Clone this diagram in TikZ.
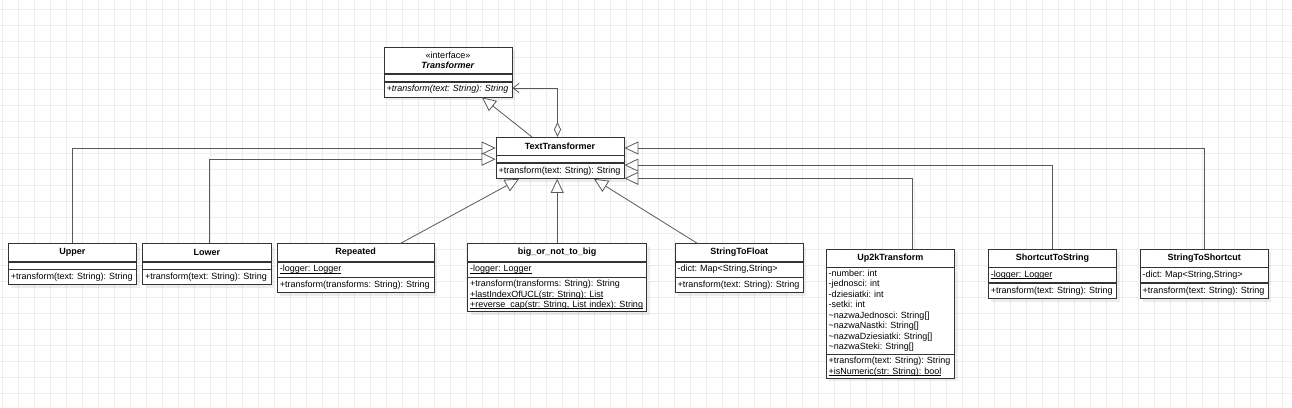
\documentclass[tikz,border=0pt]{standalone}
\usepackage{fontspec}
\setmainfont{Liberation Sans}
\usetikzlibrary{positioning,arrows.meta,shadows}

% static members are underlined close to the baseline
\newcommand{\umlstatic}[1]{\leavevmode\setbox0\hbox{#1}\rlap{\rule[-1.4pt]{\wd0}{0.5pt}}\box0}

\begin{document}
\begin{tikzpicture}[x=1pt,y=-1pt,
    umlbox/.style={draw=black!80, line width=0.8pt, fill=white, inner xsep=2.5pt, inner ysep=2.25pt,
      font=\fontsize{9}{10.5}\selectfont\frenchspacing,
      drop shadow={shadow xshift=3pt, shadow yshift=-3pt, fill=black, opacity=0.07}},
    classname/.style={umlbox, text width=#1, align=center, minimum height=17.5pt,
      font=\fontsize{9}{10.5}\selectfont\bfseries, anchor=north},
    members/.style={umlbox, text width=#1, align=left, minimum height=15pt},
    emptypart/.style={umlbox, text width=#1, minimum height=7pt, inner ysep=0pt},
    gen/.style={draw=black!65, line width=0.8pt, -{Triangle[length=14pt,width=13pt,fill=white]}},
    agg/.style={draw=black!65, line width=0.8pt,
      {Diamond[length=15pt,width=7pt,fill=white]}-{Straight Barb[length=6pt,width=9pt]}}
  ]
    \useasboundingbox (0,0) rectangle (1292,407);

    % Draw the grid
    \fill[white] (0,0) rectangle (1292,407);
    \foreach \gx in {2.5,18.5,...,1292} {
        \draw[black!7, line width=0.8pt] (\gx,0) -- (\gx,407);
    }
    \foreach \gy in {9.3,25.3,...,407} {
        \draw[black!7, line width=0.8pt] (0,\gy) -- (1292,\gy);
    }

    % Interface
    \node[classname=123pt, minimum height=26pt] (trf) at (448,47) {{\mdseries «interface»}\\\textit{Transformer}};
    \node[emptypart=123pt, below=0pt of trf] (trf-a) {};
    \node[members=123pt, below=0pt of trf-a] (trf-m) {\textit{+transform(text: String): String}};

    % Base class
    \node[classname=123pt] (tt) at (560,137) {TextTransformer};
    \node[emptypart=123pt, below=0pt of tt] (tt-a) {};
    \node[members=123pt, below=0pt of tt-a] (tt-m) {+transform(text: String): String};

    % Subclasses
    \node[classname=123.4pt] (upper) at (72.5,243.3) {Upper};
    \node[emptypart=123.4pt, below=0pt of upper] (upper-a) {};
    \node[members=123.4pt, below=0pt of upper-a] (upper-m) {+transform(text: String): String};

    \node[classname=123.4pt] (lower) at (206.8,243.3) {Lower};
    \node[emptypart=123.4pt, below=0pt of lower] (lower-a) {};
    \node[members=123.4pt, below=0pt of lower-a] (lower-m) {+transform(text: String): String};

    \node[classname=151.7pt] (rep) at (355.7,243.3) {Repeated};
    \node[members=151.7pt, below=0pt of rep] (rep-a) {\umlstatic{-logger: Logger}};
    \node[members=151.7pt, below=0pt of rep-a] (rep-m) {+transform(transforms: String): String};

    \node[classname=174pt] (big) at (557.2,243.3) {big\_or\_not\_to\_big};
    \node[members=174pt, below=0pt of big] (big-a) {\umlstatic{-logger: Logger}};
    \node[members=174pt, below=0pt of big-a] (big-m) {+transform(transforms: String): String\\
        \umlstatic{+lastIndexOfUCL(str: String): List}\\
        \umlstatic{+reverse\_cap(str: String, List index): String}};

    \node[classname=123.4pt] (stf) at (739.2,243.3) {StringToFloat};
    \node[members=123.4pt, below=0pt of stf] (stf-a) {-dict: Map<String,String>};
    \node[members=123.4pt, below=0pt of stf-a] (stf-m) {+transform(text: String): String};

    \node[classname=123.4pt] (up2k) at (890.4,249) {Up2kTransform};
    \node[members=123.4pt, below=0pt of up2k] (up2k-a) {-number: int\\-jednosci: int\\-dziesiatki: int\\-setki: int\\
        \textasciitilde nazwaJednosci: String[]\\\textasciitilde nazwaNastki: String[]\\
        \textasciitilde nazwaDziesiatki: String[]\\\textasciitilde nazwaSteki: String[]};
    \node[members=123.4pt, below=0pt of up2k-a] (up2k-m) {+transform(text: String): String\\
        \umlstatic{+isNumeric(str: String): bool}};

    \node[classname=123.4pt] (sts) at (1052.5,249) {ShortcutToString};
    \node[members=123.4pt, below=0pt of sts] (sts-a) {\umlstatic{-logger: Logger}};
    \node[members=123.4pt, below=0pt of sts-a] (sts-m) {+transform(text: String): String};

    \node[classname=123.4pt] (sth) at (1204.2,249) {StringToShortcut};
    \node[members=123.4pt, below=0pt of sth] (sth-a) {-dict: Map<String,String>};
    \node[members=123.4pt, below=0pt of sth-a] (sth-m) {+transform(text: String): String};

    % Inheritance
    \draw[gen] ([xshift=-28pt]tt.north) -- ([xshift=34pt]trf-m.south);
    \draw[agg] ([xshift=-2.5pt]tt.north) |- ([yshift=1.5pt]trf-m.east);

    \draw[gen] (upper.north) |- ([yshift=-11pt]tt.north west);
    \draw[gen] ([xshift=3pt]lower.north) |- (tt-a.west);
    \draw[gen] ([xshift=45pt]rep.north) -- ([xshift=-41pt]tt-m.south);
    \draw[gen] (big.north) -- (big.north |- tt-m.south);
    \draw[gen] ([xshift=-42pt]stf.north) -- ([xshift=34pt]tt-m.south);
    \draw[gen] ([xshift=21.5pt]up2k.north) |- ([yshift=0.5pt]tt-m.south east);
    \draw[gen] (sts.north) |- ([yshift=-2pt]tt-m.north east);
    \draw[gen] (sth.north) |- ([yshift=-11pt]tt.north east);

\end{tikzpicture}
\end{document}
